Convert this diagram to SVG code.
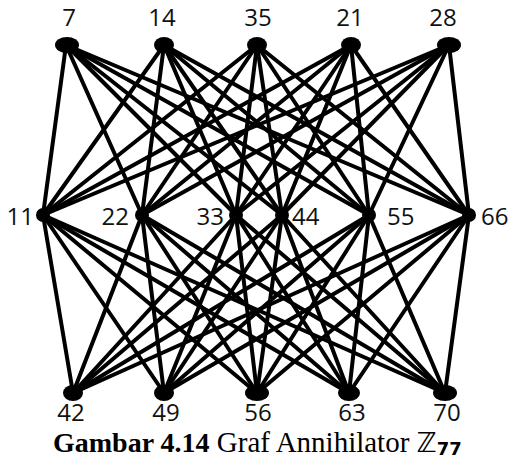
<svg xmlns="http://www.w3.org/2000/svg" width="509" height="461" viewBox="0 0 509 461">
<style>
.e line{stroke:#000;stroke-width:4;stroke-linecap:round}
.n ellipse{fill:#000}
.lbl{font-family:"Open Sans","Noto Sans",sans-serif;font-size:24px;fill:#111}
.cap{font-family:"Liberation Serif",serif;font-size:28px;fill:#000}
</style>
<rect width="509" height="461" fill="#fff"/>
<g id="connectors" class="e">
<line x1="66" y1="45" x2="43" y2="215"/><line x1="66" y1="45" x2="142" y2="215"/><line x1="66" y1="45" x2="236" y2="215"/><line x1="66" y1="45" x2="282" y2="215"/><line x1="66" y1="45" x2="369" y2="215"/><line x1="66" y1="45" x2="469" y2="215"/>
<line x1="164" y1="45" x2="43" y2="215"/><line x1="164" y1="45" x2="142" y2="215"/><line x1="164" y1="45" x2="236" y2="215"/><line x1="164" y1="45" x2="282" y2="215"/><line x1="164" y1="45" x2="369" y2="215"/><line x1="164" y1="45" x2="469" y2="215"/>
<line x1="257" y1="45" x2="43" y2="215"/><line x1="257" y1="45" x2="142" y2="215"/><line x1="257" y1="45" x2="236" y2="215"/><line x1="257" y1="45" x2="282" y2="215"/><line x1="257" y1="45" x2="369" y2="215"/><line x1="257" y1="45" x2="469" y2="215"/>
<line x1="351" y1="45" x2="43" y2="215"/><line x1="351" y1="45" x2="142" y2="215"/><line x1="351" y1="45" x2="236" y2="215"/><line x1="351" y1="45" x2="282" y2="215"/><line x1="351" y1="45" x2="369" y2="215"/><line x1="351" y1="45" x2="469" y2="215"/>
<line x1="449" y1="45" x2="43" y2="215"/><line x1="449" y1="45" x2="142" y2="215"/><line x1="449" y1="45" x2="236" y2="215"/><line x1="449" y1="45" x2="282" y2="215"/><line x1="449" y1="45" x2="369" y2="215"/><line x1="449" y1="45" x2="469" y2="215"/>
<line x1="73" y1="393" x2="43" y2="215"/><line x1="73" y1="393" x2="142" y2="215"/><line x1="73" y1="393" x2="236" y2="215"/><line x1="73" y1="393" x2="282" y2="215"/><line x1="73" y1="393" x2="369" y2="215"/><line x1="73" y1="393" x2="469" y2="215"/>
<line x1="164" y1="393" x2="43" y2="215"/><line x1="164" y1="393" x2="142" y2="215"/><line x1="164" y1="393" x2="236" y2="215"/><line x1="164" y1="393" x2="282" y2="215"/><line x1="164" y1="393" x2="369" y2="215"/><line x1="164" y1="393" x2="469" y2="215"/>
<line x1="257" y1="393" x2="43" y2="215"/><line x1="257" y1="393" x2="142" y2="215"/><line x1="257" y1="393" x2="236" y2="215"/><line x1="257" y1="393" x2="282" y2="215"/><line x1="257" y1="393" x2="369" y2="215"/><line x1="257" y1="393" x2="469" y2="215"/>
<line x1="349" y1="393" x2="43" y2="215"/><line x1="349" y1="393" x2="142" y2="215"/><line x1="349" y1="393" x2="236" y2="215"/><line x1="349" y1="393" x2="282" y2="215"/><line x1="349" y1="393" x2="369" y2="215"/><line x1="349" y1="393" x2="469" y2="215"/>
<line x1="445" y1="393" x2="43" y2="215"/><line x1="445" y1="393" x2="142" y2="215"/><line x1="445" y1="393" x2="236" y2="215"/><line x1="445" y1="393" x2="282" y2="215"/><line x1="445" y1="393" x2="369" y2="215"/><line x1="445" y1="393" x2="469" y2="215"/>
</g>
<g id="node-7" class="n"><ellipse cx="67" cy="45" rx="12" ry="8"/><text class="lbl" x="69" y="26" text-anchor="middle">7</text></g>
<g id="node-14" class="n"><ellipse cx="164" cy="45" rx="10" ry="8"/><text class="lbl" x="162" y="26" text-anchor="middle">14</text></g>
<g id="node-35" class="n"><ellipse cx="257" cy="45" rx="10" ry="8"/><text class="lbl" x="258" y="26" text-anchor="middle">35</text></g>
<g id="node-21" class="n"><ellipse cx="351" cy="45" rx="10" ry="8"/><text class="lbl" x="350" y="26" text-anchor="middle">21</text></g>
<g id="node-28" class="n"><ellipse cx="449" cy="45" rx="12" ry="8"/><text class="lbl" x="443" y="26" text-anchor="middle">28</text></g>
<g id="node-11" class="n"><ellipse cx="43" cy="215" rx="7" ry="7"/><text class="lbl" x="34" y="225" text-anchor="end">11</text></g>
<g id="node-22" class="n"><ellipse cx="142" cy="215" rx="7" ry="7"/><text class="lbl" x="129" y="225" text-anchor="end">22</text></g>
<g id="node-33" class="n"><ellipse cx="236" cy="215" rx="7" ry="7"/><text class="lbl" x="224" y="225" text-anchor="end">33</text></g>
<g id="node-44" class="n"><ellipse cx="282" cy="215" rx="7" ry="7"/><text class="lbl" x="292" y="225">44</text></g>
<g id="node-55" class="n"><ellipse cx="369" cy="215" rx="7" ry="7"/><text class="lbl" x="387" y="225">55</text></g>
<g id="node-66" class="n"><ellipse cx="469" cy="215" rx="7" ry="7"/><text class="lbl" x="481" y="225">66</text></g>
<g id="node-42" class="n"><ellipse cx="73" cy="393" rx="10" ry="8"/><text class="lbl" x="71" y="421" text-anchor="middle">42</text></g>
<g id="node-49" class="n"><ellipse cx="164" cy="393" rx="10" ry="8"/><text class="lbl" x="166" y="421" text-anchor="middle">49</text></g>
<g id="node-56" class="n"><ellipse cx="257" cy="393" rx="12" ry="8"/><text class="lbl" x="258" y="421" text-anchor="middle">56</text></g>
<g id="node-63" class="n"><ellipse cx="349" cy="393" rx="11" ry="8"/><text class="lbl" x="352" y="421" text-anchor="middle">63</text></g>
<g id="node-70" class="n"><ellipse cx="445" cy="393" rx="12" ry="8"/><text class="lbl" x="447" y="421" text-anchor="middle">70</text></g>
<text class="cap" x="53" y="452"><tspan font-weight="bold">Gambar 4.14</tspan><tspan font-size="29"> Graf Annihilator </tspan><tspan font-family="DejaVu Sans,sans-serif" font-size="27">ℤ</tspan><tspan font-family="DejaVu Sans,sans-serif" font-weight="bold" font-size="18" dy="3">77</tspan></text>
</svg>
